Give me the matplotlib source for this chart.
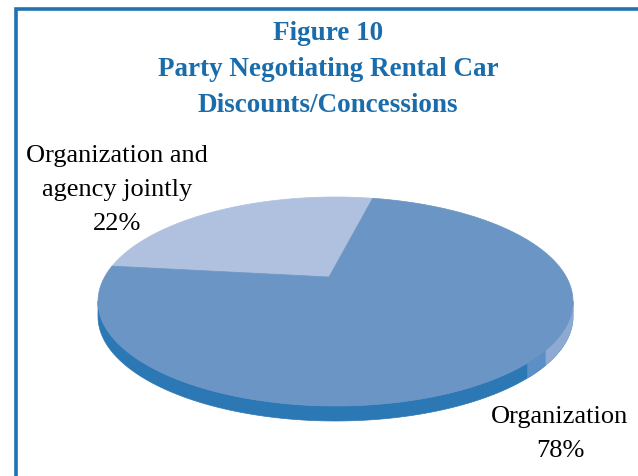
import numpy as np
import matplotlib
matplotlib.use("Agg")
import matplotlib.pyplot as plt
from matplotlib.patches import Polygon

# Data
categories = ["Organization and\nagency jointly", "Organization"]
shares = [22, 78]
top_colors = ["#afc1de", "#6a95c4"]
side_colors = ["#9db3d8", "#2b78b5"]

W, H = 638, 477
fig = plt.figure(figsize=(W / 100, H / 100), dpi=100)
ax = fig.add_axes([0, 0, 1, 1])
ax.set_xlim(0, W)
ax.set_ylim(H, 0)
ax.axis("off")

# frame (left and top edges)
ax.plot([16, 16, W + 5], [H + 5, 10, 10], color="#1f72b3", lw=2.6,
        solid_joinstyle="miter", zorder=1)

# 3-D pie geometry (pixel space)
cx, cy = 335.5, 302.5      # ellipse centre of top face
a, b = 237.5, 104.5        # semi-axes
depth = 15                 # thickness of pie
vx, vy = 329.0, 278.0      # apex of wedges on top face
start = 81.0               # start angle (degrees, counter-clockwise)


def rim(t_deg, dy=0.0):
    t = np.radians(t_deg)
    return np.column_stack([cx + a * np.cos(t), cy - b * np.sin(t) + dy])


# wedge angle ranges from the shares
total = float(sum(shares))
bounds = []
ang = start
for v in shares:
    span = 360.0 * v / total
    bounds.append((ang, ang + span))
    ang += span

# side walls: visible on the front half (180..360 degrees)
def side(t1, t2, color):
    t1, t2 = max(t1, 180.0), min(t2, 360.0)
    if t2 <= t1:
        return
    ts = np.linspace(t1, t2, 120)
    upper = rim(ts)
    lower = rim(ts[::-1], depth)
    ax.add_patch(Polygon(np.vstack([upper, lower]), closed=True,
                         facecolor=color, edgecolor=color, lw=0.5, zorder=2))

for (t1, t2), col in zip(bounds, side_colors):
    # the wedge range may wrap past 360
    side(t1, t2, col)
    side(t1 - 360, t2 - 360, col)

# shading toward the right end of the wall
side(324.0, 332.4, "#5b8fc6")
side(332.4, 360.0, "#8eaad3")

# top faces
for (t1, t2), col in zip(bounds, top_colors):
    ts = np.linspace(t1, t2, 200)
    pts = np.vstack([[vx, vy], rim(ts)])
    ax.add_patch(Polygon(pts, closed=True, facecolor=col, edgecolor=col,
                         lw=0.5, zorder=3))

# titles
title_font = dict(family="Liberation Serif", weight="bold", color="#1b6cab",
                  fontsize=19.5, ha="center", va="center")
ax.text(328, 33, "Figure 10", **title_font)
ax.text(328, 70, "Party Negotiating Rental Car", **title_font)
ax.text(328, 106, "Discounts/Concessions", **title_font)

# data labels
label_font = dict(family="Liberation Serif", color="black", fontsize=19,
                  ha="center", va="center", linespacing=1.68)
ax.text(117, 190, f"{categories[0]}\n{shares[0]}%", **label_font)
ax.text(560, 434, f"{categories[1]}\n{shares[1]}%", **label_font)

fig.savefig("out.png", dpi=100)
